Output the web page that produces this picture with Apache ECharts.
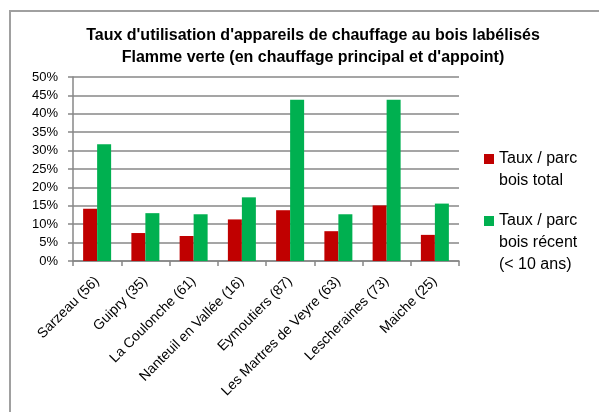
<!DOCTYPE html>
<html>
<head>
<meta charset="utf-8">
<script src="https://cdn.jsdelivr.net/npm/echarts@6/dist/echarts.min.js"></script>
<style>
  html, body { margin: 0; padding: 0; background: #fff; }
  #chart { width: 599px; height: 412px; }
</style>
</head>
<body>
<div id="chart"></div>
<script>
// communes (nombre de répondants)
const categories = ['Sarzeau (56)', 'Guipry (35)', 'La Coulonche (61)', 'Nanteuil en Vallée (16)',
  'Eymoutiers (87)', 'Les Martres de Veyre (63)', 'Lescheraines (73)', 'Maiche (25)']
const tauxTotal = [0.142, 0.076, 0.068, 0.113, 0.138, 0.081, 0.151, 0.071]
const tauxRecent = [0.317, 0.130, 0.127, 0.173, 0.438, 0.127, 0.438, 0.156]
const nameTotal = 'Taux / parc\nbois total'
const nameRecent = 'Taux / parc\nbois récent\n(< 10 ans)'

const font = 'Liberation Sans, Arial, sans-serif'
const gridColor = '#878787'

// carré en haut de l'icône, pour l'aligner sur la 1re ligne du texte
function legendIcon(h) {
  return 'path://M0,0L10,0L10,10L0,10Z M0,' + h
}

var myChart = echarts.init(document.getElementById('chart'))
var option = {
  animation: false,
  title: {
    text: "Taux d'utilisation d'appareils de chauffage au bois labélisés\nFlamme verte (en chauffage principal et d'appoint)",
    left: 308,
    top: 20,
    textAlign: 'center',
    textStyle: {
      fontFamily: font,
      fontWeight: 'bold',
      fontSize: 16,
      lineHeight: 22,
      color: '#000'
    }
  },
  legend: [{
    data: [nameTotal],
    orient: 'vertical',
    left: 479,
    top: 143,
    itemWidth: 10,
    itemHeight: 32,
    icon: legendIcon(32),
    itemGap: 0,
    textStyle: { fontFamily: font, fontSize: 16, lineHeight: 22, color: '#000' }
  }, {
    data: [nameRecent],
    orient: 'vertical',
    left: 479,
    top: 205,
    itemWidth: 10,
    itemHeight: 54,
    icon: legendIcon(54),
    itemGap: 0,
    textStyle: { fontFamily: font, fontSize: 16, lineHeight: 22, color: '#000' }
  }],
  grid: {
    left: 73,
    right: 140,
    top: 77,
    bottom: 151
  },
  xAxis: {
    type: 'category',
    data: categories,
    axisLine: { lineStyle: { color: gridColor, width: 1.5 } },
    axisTick: { show: true, length: 5, lineStyle: { color: gridColor, width: 1.5 } },
    axisLabel: {
      interval: 0,
      rotate: 45,
      margin: 18,
      fontFamily: font,
      fontSize: 14,
      color: '#000'
    }
  },
  yAxis: {
    type: 'value',
    min: 0,
    max: 0.5,
    interval: 0.05,
    axisLine: { show: true, lineStyle: { color: gridColor, width: 1.5 } },
    axisTick: { show: true, length: 5, lineStyle: { color: gridColor, width: 1.5 } },
    axisLabel: {
      margin: 15,
      fontFamily: font,
      fontSize: 13,
      color: '#000',
      formatter: function(v) { return Math.round(v * 100) + '%' }
    },
    splitLine: { show: true, lineStyle: { color: gridColor, width: 1.5 } }
  },
  series: [{
    name: nameTotal,
    type: 'bar',
    data: tauxTotal,
    barWidth: 14,
    barGap: 0,
    itemStyle: { color: '#c00000' }
  }, {
    name: nameRecent,
    type: 'bar',
    data: tauxRecent,
    barWidth: 14,
    barGap: 0,
    itemStyle: { color: '#00b050' }
  }],
  graphic: [{
    // cadre du graphique (coupé à droite et en bas)
    type: 'rect',
    shape: { x: 10, y: 11, width: 800, height: 600 },
    style: { fill: 'none', stroke: '#a0a0a0', lineWidth: 2 },
    silent: true
  }]
}

myChart.setOption(option)
window.addEventListener('resize', () => {
  myChart.resize()
}, false)
</script>
</body>
</html>
